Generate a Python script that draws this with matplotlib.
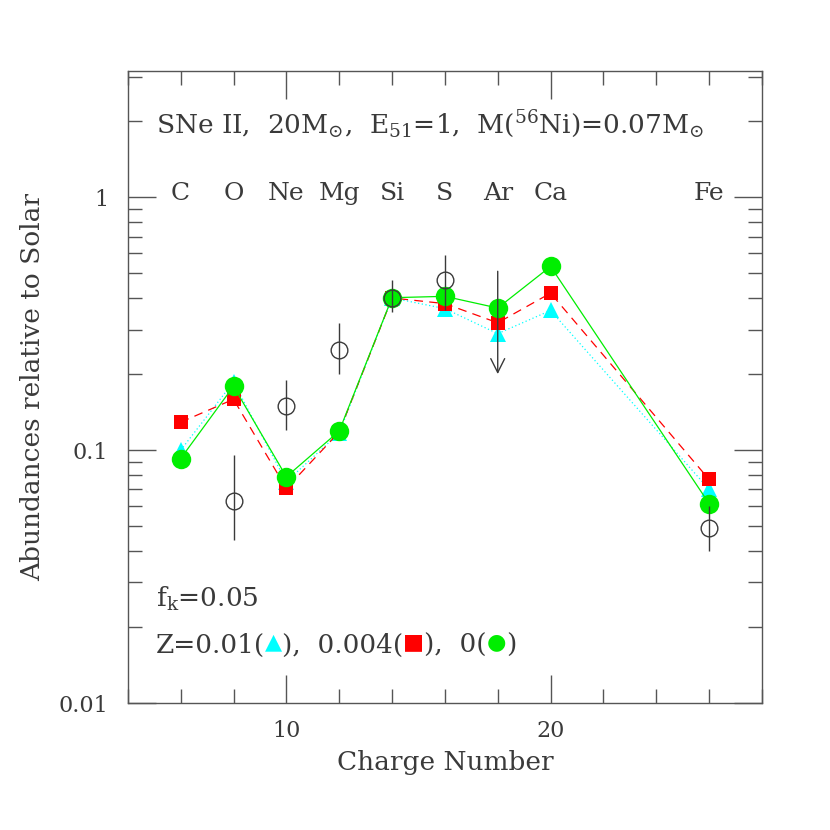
import numpy as np
import matplotlib
matplotlib.use('Agg')
import matplotlib.pyplot as plt
from matplotlib.ticker import MultipleLocator, LogLocator, NullFormatter

plt.rcParams['font.family'] = ['DejaVu Serif']
plt.rcParams['mathtext.fontset'] = 'dejavuserif'

# model abundances (charge number -> abundance relative to solar)
elements = ['C', 'O', 'Ne', 'Mg', 'Si', 'S', 'Ar', 'Ca', 'Fe']
charge = [6, 8, 10, 12, 14, 16, 18, 20, 26]
model_z001 = [0.100, 0.186, 0.075, 0.117, 0.400, 0.363, 0.289, 0.357, 0.070]
model_z0004 = [0.129, 0.159, 0.0706, 0.118, 0.400, 0.380, 0.319, 0.418, 0.0766]
model_z0 = [0.0927, 0.179, 0.0785, 0.119, 0.401, 0.406, 0.365, 0.533, 0.0615]

# observed values with errors
obs_z = [8, 10, 12, 14, 16, 26]
obs_val = [0.063, 0.150, 0.250, 0.400, 0.473, 0.0493]
obs_lo = [0.044, 0.120, 0.201, 0.352, 0.360, 0.040]
obs_hi = [0.0955, 0.189, 0.319, 0.470, 0.590, 0.060]

# Ar upper limit
ulim_z = 18
ulim_top = 0.51
ulim_arrow = 0.20

text_col = '#3a3a3a'
fs = 19

fig = plt.figure(figsize=(8.3, 8.3), dpi=100)
ax = fig.add_axes([0.154, 0.153, 0.764, 0.761])

ax.plot(charge, model_z001, color='cyan', linestyle=(0, (1, 2)), lw=0.9,
        marker='^', markersize=11, markeredgewidth=0, zorder=3)
ax.plot(charge, model_z0004, color='red', linestyle=(0, (7, 5)), lw=0.9,
        marker='s', markersize=10, markeredgewidth=0, zorder=4)
ax.plot(charge, model_z0, color='#00ee00', linestyle='-', lw=0.9,
        marker='o', markersize=14, markeredgewidth=0, zorder=5)

yerr = [np.array(obs_val) - np.array(obs_lo), np.array(obs_hi) - np.array(obs_val)]
ax.errorbar(obs_z, obs_val, yerr=yerr, fmt='o', mfc='none', mec=text_col,
            ms=12, mew=1.0, ecolor=text_col, elinewidth=1.0, capsize=0, zorder=6)

ax.annotate('', xy=(ulim_z, ulim_arrow), xytext=(ulim_z, ulim_top),
            arrowprops=dict(arrowstyle='->', color=text_col, lw=1.0,
                            mutation_scale=25, shrinkA=0, shrinkB=0), zorder=6)

ax.set_yscale('log')
ax.set_xlim(4, 28)
ax.set_ylim(0.01, 3.15)

ax.xaxis.set_major_locator(MultipleLocator(10))
ax.xaxis.set_minor_locator(MultipleLocator(2))
ax.set_yticks([0.01, 0.1, 1], labels=['0.01', '0.1', '1'])
ax.yaxis.set_minor_locator(LogLocator(base=10, subs=np.arange(2, 10)))
ax.yaxis.set_minor_formatter(NullFormatter())

ax.tick_params(which='both', direction='in', top=True, right=True,
               color='#555555', labelsize=16, labelcolor=text_col, pad=12)
ax.tick_params(axis='y', pad=14)
ax.tick_params(which='major', length=20, width=1)
ax.tick_params(which='minor', length=10, width=1)
for s in ax.spines.values():
    s.set_color('#555555')
    s.set_linewidth(1)

ax.set_xlabel('Charge Number', fontsize=fs, color=text_col, labelpad=6)
ax.set_ylabel('Abundances relative to Solar', fontsize=fs, color=text_col, labelpad=10)

for el, z in zip(elements, charge):
    ax.text(z, 0.98, el, ha='center', va='baseline', fontsize=18, color=text_col)

ax.text(5.05, 1.8, r'SNe II,  20M$_{\odot}$,  E$_{51}$=1,  M($^{56}$Ni)=0.07M$_{\odot}$',
        fontsize=fs, color=text_col, va='baseline')
ax.text(5.05, 0.024, r'f$_{\rm k}$=0.05', fontsize=fs, color=text_col, va='baseline')

# Z legend line built from consecutive pieces on one baseline
leg_y = 0.0158
pieces = [('Z=0.01(', text_col), ('\u25b2', 'cyan'), ('),  0.004(', text_col),
          ('\u25a0', 'red'), ('),  0(', text_col), ('\u25cf', '#00ee00'), (')', text_col)]
t = ax.text(5.05, leg_y, pieces[0][0], fontsize=fs, color=pieces[0][1], va='baseline')
for txt, col in pieces[1:]:
    if col == text_col:
        t = ax.annotate(txt, xycoords=(t, 'data'), xy=(1, leg_y), va='baseline',
                        fontsize=fs, color=col, family=['DejaVu Serif'])
    else:
        t = ax.annotate(txt, xycoords=(t, 'data'), xy=(1, leg_y), va='baseline',
                        xytext=(0, 3), textcoords='offset points',
                        fontsize=16, color=col, family=['DejaVu Sans'])

fig.savefig('out.png', dpi=100)
